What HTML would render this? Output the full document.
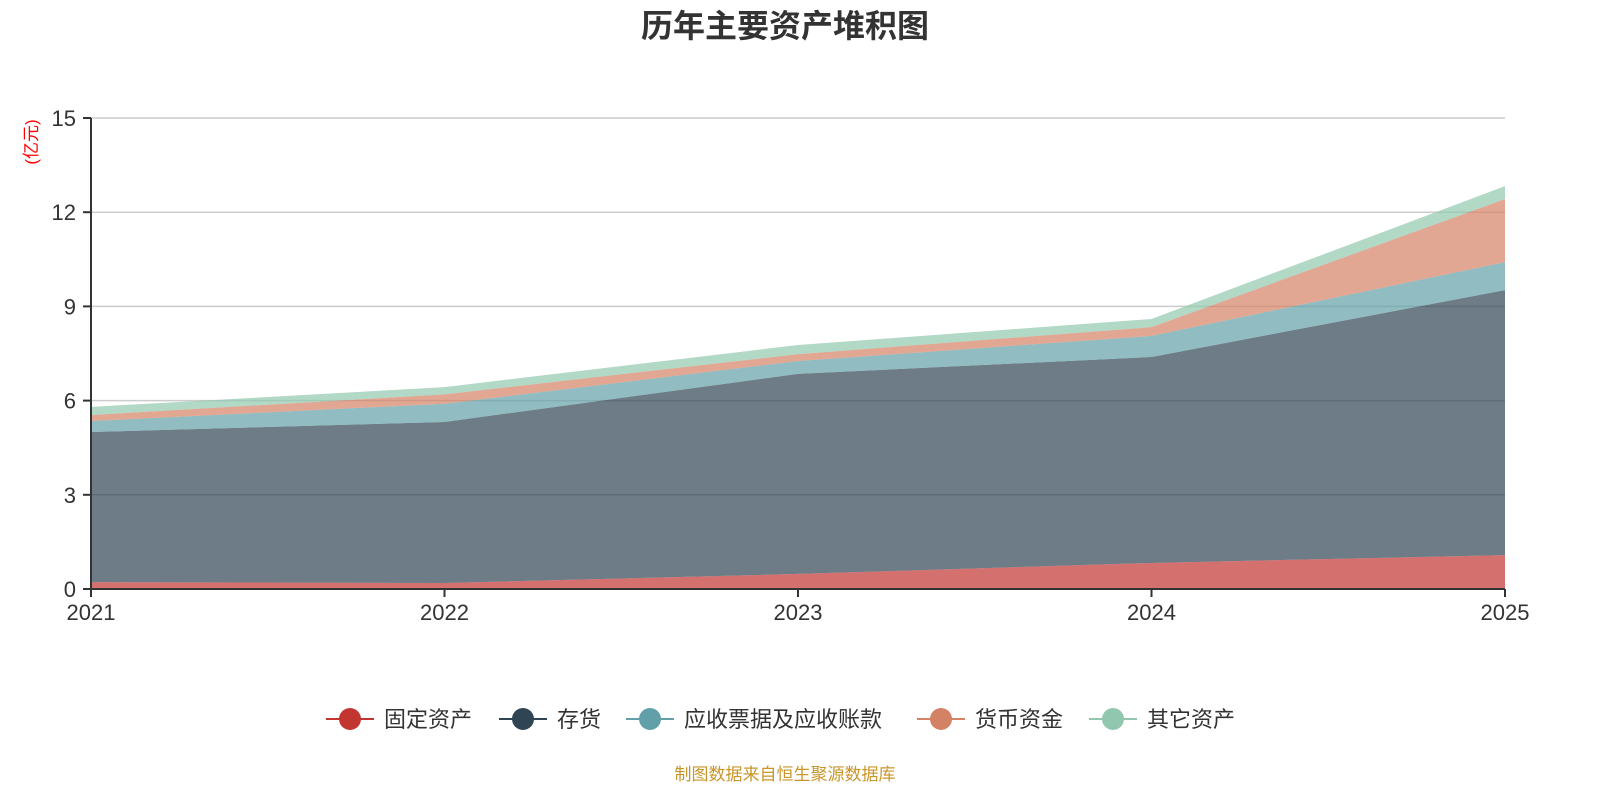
<!DOCTYPE html>
<html><head><meta charset="utf-8"><style>
body{margin:0;background:#fff;width:1600px;height:800px;overflow:hidden;font-family:"Liberation Sans","Noto Sans CJK SC",sans-serif}
</style></head><body>
<svg id="chart" width="1600" height="800" xmlns="http://www.w3.org/2000/svg" font-family="Liberation Sans, Noto Sans CJK SC, sans-serif">
<text x="785" y="37" text-anchor="middle" font-size="32" font-weight="bold" fill="#333">历年主要资产堆积图</text>
<text transform="translate(37,142) rotate(-90)" text-anchor="middle" font-size="17" fill="#f00">(亿元)</text>
<g id="grid"></g><g id="areas"></g><g id="axes"></g>
<g id="legend"></g>
<text x="785" y="780" text-anchor="middle" font-size="17" fill="#c9962a">制图数据来自恒生聚源数据库</text>
</svg>
<script>
const years=["2021","2022","2023","2024","2025"];
const seriesNames=["固定资产","存货","应收票据及应收账款","货币资金","其它资产"];
const fixedAssets=[0.22,0.19,0.48,0.83,1.08];
const inventory=[4.78,5.13,6.37,6.56,8.44];
const receivables=[0.35,0.58,0.41,0.67,0.89];
const cash=[0.19,0.30,0.22,0.28,2.01];
const otherAssets=[0.26,0.23,0.29,0.26,0.41];
const yTicks=[0,3,6,9,12,15];
const series=[fixedAssets,inventory,receivables,cash,otherAssets];
const lineColors=["#c23531","#2f4554","#61a0a8","#d48265","#91c7ae"];
const NS="http://www.w3.org/2000/svg";
const x=i=>91+i*(1505-91)/(years.length-1);
const y=v=>589-v*(589-118)/15;
function mk(t,a,p){const e=document.createElementNS(NS,t);for(const k in a)e.setAttribute(k,a[k]);p.appendChild(e);return e;}
const grid=document.getElementById('grid'),axes=document.getElementById('axes'),areas=document.getElementById('areas'),legend=document.getElementById('legend');
yTicks.forEach(t=>{
 if(t>0){const l=mk('line',{x1:91,x2:1505,y1:y(t),y2:y(t),stroke:'#ccc','stroke-width':1.5},grid);
 }
 const tk=mk('line',{x1:83,x2:91,y1:y(t),y2:y(t),stroke:'#333','stroke-width':2},axes);
 
 const tx=mk('text',{x:76,y:y(t)+8,'text-anchor':'end','font-size':22,fill:'#333'},axes);tx.textContent=t;
 
});
let base=years.map(()=>0);
series.forEach((s,si)=>{
 const top=base.map((b,i)=>b+s[i]);
 let d='M'+years.map((_,i)=>x(i)+','+y(top[i])).join('L');
 for(let i=years.length-1;i>=0;i--)d+='L'+x(i)+','+y(base[i]);
 const p=mk('path',{d:d+'Z',fill:lineColors[si],'fill-opacity':0.7,stroke:'none'},areas);
 
 base=top;
});
const ax=mk('line',{x1:91,x2:91,y1:118,y2:589,stroke:'#333','stroke-width':2},axes);

const bx=mk('line',{x1:91,x2:1505,y1:589,y2:589,stroke:'#333','stroke-width':2},axes);

years.forEach((yr,i)=>{
 const tk=mk('line',{x1:x(i),x2:x(i),y1:589,y2:597,stroke:'#333','stroke-width':2},axes);
 
 const t=mk('text',{x:x(i),y:620,'text-anchor':'middle','font-size':22,fill:'#333'},axes);t.textContent=yr;
 
});
const legendX=[326,499,626,917,1089];
seriesNames.forEach((n,i)=>{
 const g=mk('g',{},legend);
 
 const lx=legendX[i];
 mk('line',{x1:lx,x2:lx+48,y1:719,y2:719,stroke:lineColors[i],'stroke-width':2},g);
 mk('circle',{cx:lx+24,cy:719,r:11,fill:lineColors[i]},g);
 const t=mk('text',{x:lx+58,y:727,'font-size':22,fill:'#333'},g);t.textContent=n;
});
</script>
</body></html>
